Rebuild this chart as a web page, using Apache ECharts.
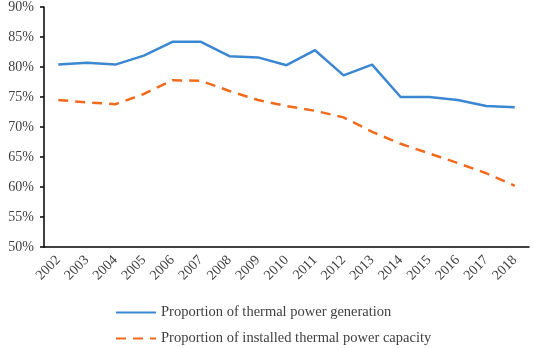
<!DOCTYPE html>
<html>
<head>
<meta charset="utf-8">
<script src="https://cdn.jsdelivr.net/npm/echarts@6/dist/echarts.min.js"></script>
<style>
  html, body { margin: 0; padding: 0; background: #fff; }
  #chart { width: 533px; height: 348px; }
</style>
</head>
<body>
<div id="chart"></div>
<script>
const years = ['2002', '2003', '2004', '2005', '2006', '2007', '2008', '2009', '2010',
  '2011', '2012', '2013', '2014', '2015', '2016', '2017', '2018'];
// percent values
const generation = [80.4, 80.7, 80.4, 81.9, 84.2, 84.2, 81.8, 81.6, 80.3,
  82.8, 78.6, 80.4, 75.0, 75.0, 74.5, 73.5, 73.3];
const capacity = [74.5, 74.1, 73.8, 75.5, 77.8, 77.7, 76.0, 74.5, 73.5,
  72.7, 71.6, 69.2, 67.2, 65.6, 64.0, 62.3, 60.2];
const seriesNames = ['Proportion of thermal power generation', 'Proportion of installed thermal power capacity'];

const font = 'Liberation Serif';
const textColor = '#404040';

const legendBase = {
  left: 115,
  padding: 0,
  itemWidth: 40,
  itemHeight: 14,
  itemGap: 7,
  itemStyle: { opacity: 0 },
  textStyle: { fontFamily: font, fontSize: 14.5, color: textColor }
};

const chart = echarts.init(document.getElementById('chart'), null, { renderer: 'canvas' });
chart.setOption({
  animation: false,
  textStyle: { fontFamily: font },
  grid: { left: 44, right: 4, top: 7, bottom: 101 },
  legend: [
    Object.assign({}, legendBase, { top: 305, data: [seriesNames[0]] }),
    Object.assign({}, legendBase, { top: 331, data: [seriesNames[1]] })
  ],
  xAxis: {
    type: 'category',
    data: years,
    boundaryGap: true,
    axisLine: { lineStyle: { color: '#000', width: 1.5 } },
    axisTick: { lineStyle: { color: '#000', width: 1.5 }, length: 5 },
    axisLabel: { rotate: 45, fontFamily: font, fontSize: 14, color: textColor, margin: 11 }
  },
  yAxis: {
    type: 'value',
    min: 50,
    max: 90,
    interval: 5,
    splitLine: { show: false },
    axisLine: { show: true, lineStyle: { color: '#000', width: 1.5 } },
    axisTick: { show: true, lineStyle: { color: '#000', width: 1.5 }, length: 4 },
    axisLabel: { formatter: '{value}%', fontFamily: font, fontSize: 14, color: textColor, margin: 10 }
  },
  series: [
    {
      name: seriesNames[0],
      type: 'line',
      data: generation,
      symbol: 'none',
      lineStyle: { color: '#3b87d1', width: 2.5 },
      itemStyle: { color: '#3b87d1' }
    },
    {
      name: seriesNames[1],
      type: 'line',
      data: capacity,
      symbol: 'none',
      lineStyle: { color: '#f26b1d', width: 2.5, type: [10, 7] },
      itemStyle: { color: '#f26b1d' }
    }
  ]
});
</script>
</body>
</html>
